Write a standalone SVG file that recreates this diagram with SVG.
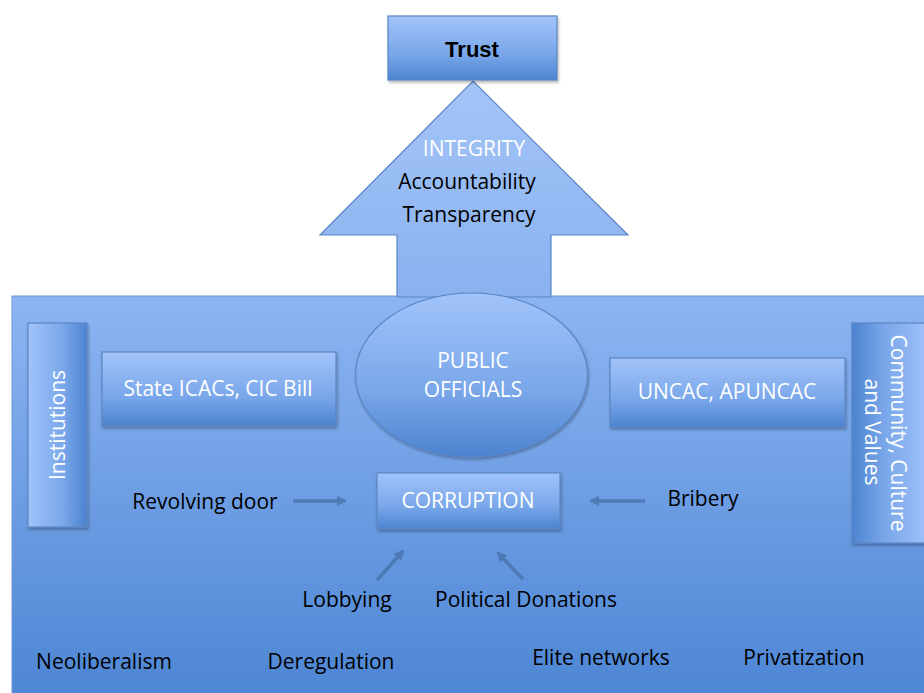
<svg xmlns="http://www.w3.org/2000/svg" width="924" height="693" viewBox="0 0 924 693">
<defs>
<linearGradient id="bg" x1="0" y1="0" x2="0" y2="1"><stop offset="0" stop-color="#8db5f3"/><stop offset="1" stop-color="#4d86d4"/></linearGradient>
<linearGradient id="arrowG" x1="0" y1="0" x2="0" y2="1"><stop offset="0" stop-color="#a3c4f8"/><stop offset="1" stop-color="#8ab2ef"/></linearGradient>
<linearGradient id="box" x1="0" y1="0" x2="0" y2="1"><stop offset="0" stop-color="#a2c3fa"/><stop offset="0.6" stop-color="#79a7ea"/><stop offset="1" stop-color="#4c83cf"/></linearGradient>
<linearGradient id="boxL" x1="1" y1="0" x2="0" y2="0"><stop offset="0" stop-color="#4c83cf"/><stop offset="0.4" stop-color="#79a7ea"/><stop offset="1" stop-color="#a2c3fa"/></linearGradient>
<linearGradient id="boxR" x1="0" y1="0" x2="1" y2="0"><stop offset="0" stop-color="#4c83cf"/><stop offset="0.4" stop-color="#79a7ea"/><stop offset="1" stop-color="#a2c3fa"/></linearGradient>
<filter id="sh" x="-10%" y="-10%" width="130%" height="130%"><feDropShadow dx="1" dy="2" stdDeviation="1.5" flood-color="#000" flood-opacity="0.3"/></filter>
<marker id="ah" viewBox="0 0 10 10" refX="8" refY="5" markerWidth="3" markerHeight="3" orient="auto"><path d="M0,0 L10,5 L0,10 z" fill="#4a76b0"/></marker>
</defs>
<style>
.t{font-family:"Open Sans","Liberation Sans",sans-serif;text-anchor:middle}
.w{fill:#ffffff;font-size:21px}
.b{fill:#000000;font-size:21px}
.bx{stroke:#5a86c4;stroke-width:1.2;filter:url(#sh)}
.c{stroke:#4a76b0;stroke-width:3.5;fill:none;marker-end:url(#ah);opacity:0.85}
</style>
<rect x="0" y="0" width="924" height="693" fill="#ffffff"/>
<g id="background">
<rect x="12" y="296" width="920" height="400" fill="url(#bg)" stroke="#6d97d2" stroke-width="1"/>
</g>
<g id="arrow">
<path d="M473,81 L628,235 L551,235 L551,297 L397,297 L397,235 L320,235 Z" fill="url(#arrowG)" stroke="#5a86c4" stroke-width="1.2"/>
<text class="t w" x="474" y="156">INTEGRITY</text>
<text class="t b" x="467" y="189">Accountability</text>
<text class="t b" x="469" y="222">Transparency</text>
</g>
<g id="trust">
<rect class="bx" x="388" y="16" width="169" height="64" fill="url(#box)"/>
<text x="472" y="57" font-family="Liberation Sans, sans-serif" text-anchor="middle" font-size="22" font-weight="bold" fill="#000">Trust</text>
</g>
<g id="institutions">
<rect class="bx" x="28" y="323" width="59" height="204" fill="url(#boxL)"/>
<text class="t w" transform="translate(65,425) rotate(-90)">Institutions</text>
</g>
<g id="state">
<rect class="bx" x="102" y="352" width="234" height="74" fill="url(#box)"/>
<text class="t w" x="218" y="396">State ICACs, CIC Bill</text>
</g>
<g id="officials">
<ellipse class="bx" cx="471.5" cy="375" rx="116" ry="82" fill="url(#box)"/>
<text class="t w" x="473" y="368">PUBLIC</text>
<text class="t w" x="473" y="397">OFFICIALS</text>
</g>
<g id="uncac">
<rect class="bx" x="610" y="358" width="235" height="69" fill="url(#box)"/>
<text class="t w" x="727" y="399">UNCAC, APUNCAC</text>
</g>
<g id="community">
<rect class="bx" x="852" y="323" width="80" height="220" fill="url(#boxR)"/>
<text class="t w" transform="translate(891,433) rotate(90)">Community, Culture</text>
<text class="t w" transform="translate(865,432) rotate(90)">and Values</text>
</g>
<g id="corruption">
<rect class="bx" x="377" y="473" width="183" height="56" fill="url(#box)"/>
<text class="t w" x="468" y="508">CORRUPTION</text>
</g>
<g id="connectors">
<line class="c" x1="293" y1="501" x2="345" y2="501"/>
<line class="c" x1="645" y1="501" x2="591" y2="501"/>
<line class="c" x1="377" y1="580" x2="403" y2="551"/>
<line class="c" x1="523" y1="579" x2="498" y2="553"/>
</g>
<g id="labels">
<text class="t b" x="205" y="509">Revolving door</text>
<text class="t b" x="703" y="506">Bribery</text>
<text class="t b" x="347" y="607">Lobbying</text>
<text class="t b" x="526" y="607">Political Donations</text>
<text class="t b" x="104" y="669">Neoliberalism</text>
<text class="t b" x="331" y="669">Deregulation</text>
<text class="t b" x="601" y="665">Elite networks</text>
<text class="t b" x="804" y="665">Privatization</text>
</g>
</svg>
